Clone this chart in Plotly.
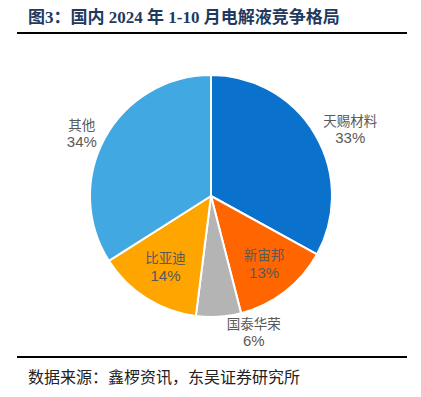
import plotly.graph_objects as go

companies = ["天赐材料", "新宙邦", "国泰华荣", "比亚迪", "其他"]
shares = [33, 13, 6, 14, 34]
colors = ["#0A72CC", "#FF6600", "#B4B4B4", "#FFA500", "#42A8E2"]
positions = ["outside", "inside", "outside", "inside", "outside"]

W, H = 421, 397
OFF = 8  # page body margin
cx, cy, r = 211 - OFF, 196 - OFF, 121

def px(x):
    return (x - OFF) / W

def py(y):
    return 1 - (y - OFF) / H

label_font = dict(family="Liberation Sans, Noto Sans CJK SC", size=13.5, color="#595959")

fig = go.Figure(go.Pie(
    labels=companies,
    values=shares,
    sort=False,
    direction="clockwise",
    rotation=0,
    marker=dict(colors=colors, line=dict(color="white", width=2)),
    texttemplate="%{label}<br><span style='font-size:15px'>%{percent:.0%}</span>",
    textposition=positions,
    insidetextorientation="horizontal",
    textfont=label_font,
    outsidetextfont=label_font,
    insidetextfont=label_font,
    domain=dict(x=[(cx - r) / W, (cx + r) / W], y=[1 - (cy + r) / H, 1 - (cy - r) / H]),
    showlegend=False,
    hoverinfo="skip",
))

fig.update_layout(
    width=W, height=H,
    margin=dict(l=0, r=0, t=0, b=0),
    paper_bgcolor="white",
    plot_bgcolor="white",
    shapes=[
        dict(type="line", xref="paper", yref="paper", x0=px(17), x1=px(407),
             y0=py(33), y1=py(33), line=dict(color="black", width=2)),
        dict(type="line", xref="paper", yref="paper", x0=px(17), x1=px(407),
             y0=py(357), y1=py(357), line=dict(color="black", width=2)),
    ],
    annotations=[
        dict(text="<b>图3：国内 2024 年 1-10 月电解液竞争格局</b>", xref="paper", yref="paper",
             x=px(26), y=py(17), xanchor="left", yanchor="middle", showarrow=False,
             font=dict(family="Liberation Serif, Noto Sans CJK SC", size=17, color="#1F3A5F")),
        dict(text="数据来源：鑫椤资讯，东吴证券研究所", xref="paper", yref="paper",
             x=px(26), y=py(377), xanchor="left", yanchor="middle", showarrow=False,
             font=dict(family="Liberation Serif, Noto Sans CJK SC", size=16, color="#222222")),
    ],
)

fig.write_html("out.html")
